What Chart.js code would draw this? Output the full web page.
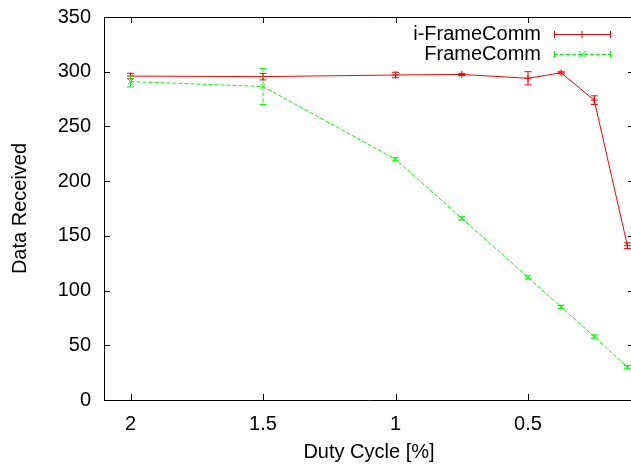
<!DOCTYPE html>
<html><head><meta charset="utf-8">
<script src="https://cdn.jsdelivr.net/npm/chart.js@4.4.1/dist/chart.umd.min.js"></script>
<style>html,body{margin:0;padding:0;overflow:hidden;background:#fff;width:631px;height:464px}canvas{display:block}</style>
</head><body>
<canvas id="c" width="640" height="464"></canvas>
<script>
// ---- data ----
const dutyCycle = [2, 1.5, 1, 0.75, 0.5, 0.375, 0.25, 0.125];
const iFrameComm = [296, 295.5, 297, 297.5, 294, 299, 274, 141];
const iFrameCommErr = [2.5, 3, 2.5, 1, 6, 1, 4, 2.5];
const frameComm = [291, 286.5, 220, 166, 112, 85, 58, 30];
const frameCommErr = [5, 16.5, 1.5, 1.5, 1.5, 1.5, 1.5, 1.5];
const xTickValues = [2, 1.5, 1, 0.5];
const xTickLabels = ['2', '1.5', '1', '0.5'];
const yTickValues = [0, 50, 100, 150, 200, 250, 300, 350];
const seriesLabels = ['i-FrameComm', 'FrameComm'];

const FAMILY = "'Liberation Sans', Arial, Helvetica, sans-serif";
const RED = '#ff0000', GREEN = '#00ff00';

function drawMarker(ctx, style, x, y, r) {
  ctx.beginPath();
  if (style === 'cross') {
    ctx.moveTo(x - r, y); ctx.lineTo(x + r, y);
    ctx.moveTo(x, y - r); ctx.lineTo(x, y + r);
  } else {
    ctx.moveTo(x - r, y - r); ctx.lineTo(x + r, y + r);
    ctx.moveTo(x - r, y + r); ctx.lineTo(x + r, y - r);
  }
  ctx.stroke();
}

const gnuplotPlugin = {
  id: 'gnuplotPlugin',
  afterDatasetsDraw(chart) {
    const ctx = chart.ctx, xs = chart.scales.x, ys = chart.scales.y;
    const sets = [
      {vals: iFrameComm, err: iFrameCommErr, color: RED, dash: []},
      {vals: frameComm, err: frameCommErr, color: GREEN, dash: [4, 2]}
    ];
    ctx.save();
    ctx.lineWidth = 1;
    sets.forEach(s => {
      ctx.strokeStyle = s.color;
      s.vals.forEach((v, i) => {
        const px = xs.getPixelForValue(dutyCycle[i]);
        const top = ys.getPixelForValue(v + s.err[i]);
        const bot = ys.getPixelForValue(v - s.err[i]);
        ctx.setLineDash(s.dash);
        ctx.beginPath();
        ctx.moveTo(px, top); ctx.lineTo(px, bot);
        ctx.stroke();
        ctx.setLineDash([]);
        ctx.beginPath();
        ctx.moveTo(px - 3.5, top); ctx.lineTo(px + 3.5, top);
        ctx.moveTo(px - 3.5, bot); ctx.lineTo(px + 3.5, bot);
        ctx.stroke();
      });
    });
    ctx.restore();
  },
  afterDraw(chart) {
    const ctx = chart.ctx, xs = chart.scales.x, ys = chart.scales.y;
    const a = chart.chartArea;
    ctx.save();
    ctx.strokeStyle = '#000';
    ctx.lineWidth = 1;
    ctx.beginPath();
    ctx.rect(Math.round(a.left) + 0.5, Math.round(a.top) + 0.5, Math.round(a.right - a.left), Math.round(a.bottom - a.top));
    ctx.stroke();
    ctx.beginPath();
    yTickValues.forEach(v => {
      const py = Math.round(ys.getPixelForValue(v)) + 0.5;
      ctx.moveTo(a.left, py); ctx.lineTo(a.left + 6, py);
      ctx.moveTo(a.right, py); ctx.lineTo(a.right - 6, py);
    });
    xTickValues.forEach(v => {
      const px = Math.round(xs.getPixelForValue(v)) + 0.5;
      ctx.moveTo(px, a.bottom); ctx.lineTo(px, a.bottom - 6);
      ctx.moveTo(px, a.top); ctx.lineTo(px, a.top + 6);
    });
    ctx.stroke();
    // legend
    const items = [
      {label: seriesLabels[0], color: RED, dash: [], marker: 'cross', y: 34},
      {label: seriesLabels[1], color: GREEN, dash: [4, 2], marker: 'crossRot', y: 54}
    ];
    ctx.font = '20px ' + FAMILY;
    ctx.textAlign = 'right';
    ctx.textBaseline = 'middle';
    items.forEach(it => {
      ctx.fillStyle = '#000';
      ctx.fillText(it.label, 541, it.y);
      const x0 = 554, x1 = 610, xm = 582;
      ctx.strokeStyle = it.color;
      ctx.setLineDash(it.dash);
      ctx.beginPath(); ctx.moveTo(x0, it.y + 0.5); ctx.lineTo(x1, it.y + 0.5); ctx.stroke();
      ctx.setLineDash([]);
      ctx.beginPath();
      ctx.moveTo(x0 + 0.5, it.y - 3); ctx.lineTo(x0 + 0.5, it.y + 4);
      ctx.moveTo(x1 + 0.5, it.y - 3); ctx.lineTo(x1 + 0.5, it.y + 4);
      ctx.stroke();
      drawMarker(ctx, it.marker, xm, it.y + 0.5, 3.5);
    });
    ctx.restore();
  }
};

const mkData = (vals) => dutyCycle.map((x, i) => ({x, y: vals[i]}));

new Chart(document.getElementById('c'), {
  type: 'line',
  data: {
    datasets: [
      {label: seriesLabels[0], data: mkData(iFrameComm), borderColor: RED, backgroundColor: RED,
       borderWidth: 1, pointStyle: 'cross', pointRadius: 3.5, pointBorderWidth: 1, tension: 0, fill: false},
      {label: seriesLabels[1], data: mkData(frameComm), borderColor: GREEN, backgroundColor: GREEN,
       borderWidth: 1, borderDash: [4, 2], pointStyle: 'crossRot', pointRadius: 3.5, pointBorderWidth: 1, tension: 0, fill: false}
    ]
  },
  options: {
    responsive: false,
    animation: false,
    devicePixelRatio: 1,
    layout: {padding: {top: 17, right: 6, left: 0, bottom: 0}},
    plugins: {legend: {display: false}, tooltip: {enabled: false}},
    scales: {
      x: {
        type: 'linear', reverse: true, min: 0.1, max: 2.1,
        afterBuildTicks: s => { s.ticks = xTickValues.map(v => ({value: v})); },
        afterFit: s => { s.height = 64; s.paddingLeft = 0; s.paddingRight = 0; },
        grid: {display: false, drawTicks: false},
        border: {display: false},
        ticks: {color: '#000', font: {family: FAMILY, size: 20}, padding: 12, maxRotation: 0,
                callback: (v, i) => xTickLabels[i]},
        title: {display: true, text: 'Duty Cycle [%]', color: '#000', font: {family: FAMILY, size: 20}, padding: {top: 0, bottom: 0}}
      },
      y: {
        type: 'linear', min: 0, max: 350,
        afterBuildTicks: s => { s.ticks = yTickValues.map(v => ({value: v})); },
        afterFit: s => { s.width = 104; s.paddingTop = 0; s.paddingBottom = 0; },
        grid: {display: false, drawTicks: false},
        border: {display: false},
        ticks: {color: '#000', font: {family: FAMILY, size: 20}, padding: 13},
        title: {display: true, text: 'Data Received', color: '#000', font: {family: FAMILY, size: 20}, padding: {top: 8, bottom: 0}}
      }
    }
  },
  plugins: [gnuplotPlugin]
});
</script>
</body></html>
